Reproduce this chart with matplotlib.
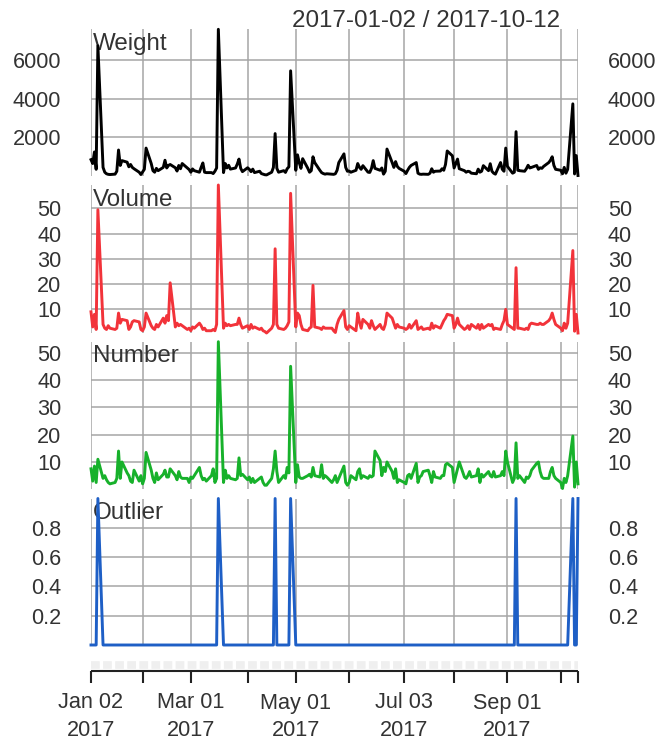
import numpy as np
import pandas as pd
import matplotlib
matplotlib.use("Agg")
import matplotlib.pyplot as plt
import matplotlib.dates as mdates

W, H = 658, 745
plt.rcParams['font.family'] = ['Liberation Sans', 'DejaVu Sans']
plt.rcParams['lines.scale_dashes'] = False

# Business days of the series
dates = pd.bdate_range("2017-01-02", "2017-10-12")

# Series values, one week (Mon..Fri) per line
weight = [
    850, 650, 1250, 350, 6750,  450, 200, 120, 90, 80,  100, 250, 1350, 550, 800,
    720, 480, 600, 450, 380,  200, 80, 220, 350, 1450,  650, 280, 200, 400, 280,
    450, 820, 420, 550, 600,  430, 260, 550, 380, 650,  420, 340, 200, 370, 280,
    200, 450, 680, 200, 180,  180, 130, 250, 420, 7600,  180, 650, 420, 560, 360,
    420, 620, 880, 400, 230,  430, 350, 230, 360, 180,  250, 130, 100, 70, 60,
    200, 450, 2200, 400, 200,  280, 190, 380, 480, 5450,  300, 1100, 700, 400, 900,
    400, 200, 280, 1000, 700,  300, 180, 130, 100, 120,  100, 90, 120, 300, 700,
    1150, 450, 250, 260, 200,  300, 650, 450, 350, 540,  200, 190, 400, 800, 400,
    300, 420, 100, 250, 1400,  700, 450, 750, 500, 400,  250, 130, 300, 450, 550,
    700, 150, 100, 90, 100,  90, 150, 380, 200, 250,  260, 380, 300, 600, 1300,
    1050, 420, 650, 880, 380,  280, 200, 250, 230, 150,  120, 360, 200, 250, 540,
    280, 640, 250, 150, 100,  700, 350, 250, 1450, 500,  150, 200, 2300, 300, 280,
    250, 380, 560, 420, 450,  550, 350, 430, 400, 500,  700, 820, 1000, 550, 350,
    300, 120, 450, 150, 350,  3740, 110, 1060, 30,
]
volume = [
    9, 3, 8, 2, 49.5,  4, 2.5, 2, 3.5, 2.5,  2, 2.5, 8.5, 4.5, 6,
    5.5, 2, 3, 5, 5.5,  5, 2, 1.5, 3, 8.5,  3.5, 2.5, 2, 4, 3,
    6.5, 4.5, 7.5, 5.5, 20.5,  3, 4.5, 3.5, 4, 3.5,  2, 2.5, 1.5, 3, 2.5,
    4.5, 3.5, 2, 2.5, 1.5,  1.5, 2, 1.5, 4, 59.3,  2.5, 4.5, 3.5, 4, 3.5,
    4, 4, 6.5, 4, 2.5,  3.5, 2, 4, 2.5, 3,  2, 2.5, 1.5, 1.2, 0.6,
    2.5, 4, 34, 4, 2.5,  2, 2.5, 3.5, 5, 56,  3, 8.5, 7.5, 4, 2,
    1.5, 2.5, 3, 19.5, 3,  2.5, 2, 3, 2.5, 2.5,  2.5, 1.5, 0.8, 4, 6,
    9.5, 3, 2, 3.5, 3,  1.5, 8.5, 5, 2.5, 6,  4, 2.5, 5.5, 3.5, 2,
    4, 2.5, 2, 4, 8.5,  6.5, 4.5, 2.5, 4, 3,  2.5, 2, 2.5, 4, 2.5,
    5.5, 2, 2.5, 3, 2,  2.5, 2, 4.5, 2.5, 3.5,  2.5, 4, 5.5, 6.5, 8,
    7.5, 2.5, 4, 6.5, 4,  2, 2.5, 3.5, 2, 4,  2.5, 4, 2, 4, 2.5,
    4, 3.5, 4, 2, 2.5,  2, 4, 5.5, 10, 4,  2.5, 2, 26.5, 2.5, 2.5,
    2, 2.5, 2, 4, 4.5,  4, 4, 4.5, 4, 4,  5.5, 6.5, 8.5, 6, 4,
    2.5, 1.5, 4.5, 2.5, 4.5,  33.3, 1.3, 8, 0.6,
]
number = [
    7.5, 3, 8.5, 2.5, 11,  4, 5, 3.5, 2.5, 2,  2.5, 4, 14, 4, 10,
    6, 5, 3, 2.5, 7,  3, 5, 2, 4, 13.5,  7, 4, 2.5, 6, 3.5,
    5.5, 7, 4.5, 4.5, 7.5,  5, 3.5, 6.5, 4.5, 4,  4, 2.5, 4.5, 4, 5,
    8, 5, 3.5, 4, 3,  5, 7.5, 2.5, 4, 54,  2.5, 7, 4, 5, 4,
    3.5, 4, 11.5, 5, 5.5,  3.5, 4.5, 2.5, 4, 2.5,  4, 4.5, 2.5, 1.5, 1.5,
    4, 7.5, 14, 6.5, 2.5,  5, 4, 8, 6, 45,  2.5, 9, 4.5, 4, 4,
    5, 5.5, 4.5, 8, 5,  4.5, 9, 4, 5, 4.5,  2.5, 3.5, 5, 2.5, 4,
    8.5, 2.5, 1.5, 2.5, 5,  3.5, 6.5, 7.5, 4, 5,  4, 5, 4.5, 5, 14,
    10.5, 5, 8, 6.5, 10,  6.5, 4, 7.5, 2.5, 3.5,  2.5, 2, 5, 5.5, 4,
    9.5, 2.5, 4.5, 5, 6.5,  7, 5, 2.5, 6.5, 4.5,  4, 5, 5, 9, 9.5,
    8, 2.5, 5, 7.5, 10,  4.5, 4, 5, 6.5, 4.5,  5, 7.5, 2.5, 5.5, 4.5,
    6.5, 5, 4.5, 6.5, 4.5,  5, 6.5, 5, 14, 10,  2.5, 4, 17, 4, 5,
    2.5, 4.5, 4, 5, 7,  9.5, 10, 6.5, 4.5, 4,  4, 6.5, 8, 5, 4,
    2.5, 0.3, 4, 2.5, 5,  19.5, 0.8, 10, 2,
]
outlier_days = ["2017-01-06", "2017-03-17", "2017-04-19", "2017-04-28",
                "2017-09-06", "2017-10-09", "2017-10-12"]

panel_names = ["Weight", "Volume", "Number", "Outlier"]
panel_colors = ["#000000", "#F2333A", "#17B12B", "#1E5FC6"]
panel_ticks = [[2000, 4000, 6000], [10, 20, 30, 40, 50], [10, 20, 30, 40, 50],
               [0.2, 0.4, 0.6, 0.8]]

grid_dates = ["2017-01-02", "2017-02-01", "2017-03-01", "2017-04-03", "2017-05-01",
              "2017-06-01", "2017-07-03", "2017-08-01", "2017-09-01", "2017-10-02",
              "2017-10-12"]
label_dates = ["2017-01-02", "2017-03-01", "2017-05-01", "2017-07-03", "2017-09-01"]
label_texts = ["Jan 02\n2017", "Mar 01\n2017", "May 01\n2017", "Jul 03\n2017", "Sep 01\n2017"]

title = "2017-01-02 / 2017-10-12"

TXT = "#333333"
GRID = "#A6A6A6"

outlier = [1 if d.strftime("%Y-%m-%d") in outlier_days else 0 for d in dates]
series = [weight, volume, number, outlier]

fig = plt.figure(figsize=(W / 100, H / 100), dpi=100)


def px_axes(left, top, right, bottom):
    return fig.add_axes([left / W, 1 - bottom / H, (right - left) / W, (bottom - top) / H])


x = mdates.date2num(dates)
gx = mdates.date2num(pd.to_datetime(grid_dates))
X0, X1 = 91, 578
panels = [(29.3, 175.5), (185, 333), (341.7, 488.5), (498.5, 645)]

for i, (top, bot) in enumerate(panels):
    ax = px_axes(X0, top, X1, bot)
    vals = series[i]
    ax.plot(x, vals, color=panel_colors[i], lw=2.1, clip_on=False, zorder=3)
    ax.set_xlim(x[0], x[-1])
    ax.set_ylim(min(vals), max(vals))
    for s in ax.spines.values():
        s.set_visible(False)
    ax.set_xticks(gx)
    ax.set_yticks(panel_ticks[i])
    ax.set_yticklabels([f"{t:g}" for t in panel_ticks[i]])
    ax.grid(True, color=GRID, lw=1.1)
    ax.set_axisbelow(True)
    ax.tick_params(axis='x', length=0, labelbottom=False)
    ax.tick_params(axis='y', length=0, pad=21.5, labelsize=15.6, labelcolor=TXT,
                   labelleft=True, labelright=True)
    ax.text(93 / W, 1 - (top + 20.7) / H, panel_names[i], transform=fig.transFigure,
            fontsize=17.4, color=TXT, va='baseline', ha='left', zorder=1)

# x axis at the bottom
axx = px_axes(X0, 650, X1, 745)
axx.set_xlim(x[0], x[-1])
axx.set_ylim(745, 650)
axx.axis('off')
axx.plot([x[0], x[-1]], [664.5, 664.5], color="#EFEFEF", lw=5.5,
         dashes=(6.3, 2.4), dash_capstyle='butt', solid_capstyle='butt', clip_on=False)
axx.plot([x[0], x[-1]], [670.7, 670.7], color="#222222", lw=1.5, clip_on=False,
         solid_capstyle='butt')
for g in gx:
    axx.plot([g, g], [670.7, 682.7], color="#222222", lw=1.5, clip_on=False,
             solid_capstyle='butt')
lx = mdates.date2num(pd.to_datetime(label_dates))
for xv, lab in zip(lx, label_texts):
    l1, l2 = lab.split("\n")
    axx.text(xv, 703, l1, ha='center', va='center', fontsize=15.6, color=TXT, clip_on=False)
    axx.text(xv, 730.5, l2, ha='center', va='center', fontsize=15.6, color=TXT, clip_on=False)

fig.text(560 / W, 1 - 27 / H, title, ha='right', va='baseline', fontsize=17.4, color=TXT)

fig.savefig("out.png", dpi=100)
